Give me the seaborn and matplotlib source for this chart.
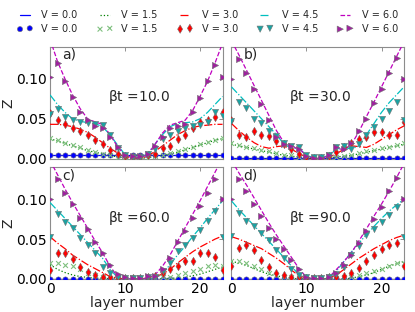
import numpy as np
import matplotlib
matplotlib.use("Agg")
import matplotlib.pyplot as plt
from matplotlib.ticker import FormatStrFormatter
import seaborn as sns

# layer index
layers = list(range(24))

potentials = ['0.0', '1.5', '3.0', '4.5', '6.0']
beta_t = ['10.0', '30.0', '60.0', '90.0']
panel_tags = ['a)', 'b)', 'c)', 'd)']

# ---- panel a, beta t = 10 ----
a_line_00 = [0.005, 0.005, 0.005, 0.005, 0.005, 0.005, 0.005, 0.005, 0.005, 0.005, 0.005, 0.005,
             0.005, 0.005, 0.005, 0.005, 0.005, 0.005, 0.005, 0.005, 0.005, 0.005, 0.005, 0.005]
a_pts_00 = [0.005, 0.005, 0.005, 0.005, 0.005, 0.005, 0.005, 0.005, 0.005, 0.005, 0.005, 0.005,
            0.005, 0.005, 0.005, 0.005, 0.005, 0.005, 0.005, 0.005, 0.005, 0.005, 0.005, 0.005]
a_line_15 = [0.025, 0.022, 0.019, 0.016, 0.013, 0.010, 0.008, 0.006, 0.004, 0.002, 0.001, 0.000,
             0.000, 0.001, 0.002, 0.004, 0.006, 0.008, 0.011, 0.014, 0.017, 0.020, 0.023, 0.025]
a_pts_15 = [0.026, 0.023, 0.020, 0.017, 0.014, 0.011, 0.008, 0.006, 0.004, 0.002, 0.001, 0.001,
            0.001, 0.001, 0.003, 0.005, 0.007, 0.009, 0.012, 0.015, 0.018, 0.021, 0.023, 0.026]
a_line_30 = [0.043, 0.043, 0.042, 0.040, 0.037, 0.033, 0.027, 0.020, 0.013, 0.007, 0.002, 0.000,
             0.000, 0.003, 0.009, 0.016, 0.023, 0.030, 0.035, 0.039, 0.041, 0.042, 0.043, 0.043]
a_pts_30 = [0.057, 0.049, 0.044, 0.039, 0.035, 0.029, 0.023, 0.018, 0.011, 0.006, 0.003, 0.002,
            0.002, 0.004, 0.006, 0.013, 0.016, 0.024, 0.030, 0.038, 0.046, 0.049, 0.052, 0.059]
a_line_45 = [0.080, 0.068, 0.058, 0.050, 0.047, 0.045, 0.044, 0.040, 0.030, 0.017, 0.005, 0.001,
             0.001, 0.006, 0.018, 0.030, 0.040, 0.044, 0.045, 0.046, 0.050, 0.058, 0.068, 0.078]
a_pts_45 = [0.056, 0.062, 0.052, 0.048, 0.046, 0.045, 0.044, 0.042, 0.030, 0.013, 0.004, 0.002,
            0.002, 0.006, 0.012, 0.024, 0.030, 0.035, 0.039, 0.041, 0.042, 0.046, 0.059, 0.054]
a_line_60 = [0.150, 0.122, 0.100, 0.080, 0.063, 0.050, 0.046, 0.043, 0.030, 0.015, 0.004, 0.001,
             0.001, 0.005, 0.018, 0.032, 0.042, 0.045, 0.048, 0.060, 0.078, 0.097, 0.120, 0.145]
a_pts_60 = [0.102, 0.120, 0.098, 0.077, 0.059, 0.048, 0.041, 0.038, 0.027, 0.014, 0.005, 0.003,
            0.003, 0.006, 0.016, 0.027, 0.038, 0.041, 0.044, 0.059, 0.076, 0.097, 0.118, 0.102]

# ---- panel b, beta t = 30 ----
b_line_00 = [0.0005, 0.0005, 0.0005, 0.0005, 0.0005, 0.0005, 0.0005, 0.0005, 0.0005, 0.0005, 0.0005, 0.0005,
             0.0005, 0.0005, 0.0005, 0.0005, 0.0005, 0.0005, 0.0005, 0.0005, 0.0005, 0.0005, 0.0005, 0.0005]
b_pts_00 = [0.0005, 0.0005, 0.0005, 0.0005, 0.0005, 0.0005, 0.0005, 0.0005, 0.0005, 0.0005, 0.0005, 0.0005,
            0.0005, 0.0005, 0.0005, 0.0005, 0.0005, 0.0005, 0.0005, 0.0005, 0.0005, 0.0005, 0.0005, 0.0005]
b_line_15 = [0.018, 0.016, 0.014, 0.012, 0.010, 0.008, 0.006, 0.004, 0.003, 0.002, 0.001, 0.000,
             0.000, 0.001, 0.002, 0.003, 0.004, 0.006, 0.008, 0.010, 0.012, 0.014, 0.016, 0.018]
b_pts_15 = [0.019, 0.017, 0.015, 0.013, 0.011, 0.009, 0.007, 0.005, 0.004, 0.002, 0.001, 0.001,
            0.001, 0.001, 0.002, 0.003, 0.005, 0.007, 0.009, 0.011, 0.013, 0.015, 0.017, 0.019]
b_line_30 = [0.044, 0.035, 0.027, 0.020, 0.015, 0.013, 0.015, 0.016, 0.012, 0.006, 0.002, 0.000,
             0.000, 0.002, 0.006, 0.012, 0.016, 0.015, 0.014, 0.018, 0.024, 0.030, 0.036, 0.041]
b_pts_30 = [0.048, 0.030, 0.027, 0.035, 0.030, 0.028, 0.022, 0.018, 0.012, 0.006, 0.002, 0.001,
            0.001, 0.003, 0.008, 0.015, 0.020, 0.025, 0.027, 0.033, 0.033, 0.029, 0.030, 0.046]
b_line_45 = [0.090, 0.080, 0.070, 0.060, 0.050, 0.040, 0.030, 0.018, 0.013, 0.013, 0.004, 0.001,
             0.001, 0.004, 0.012, 0.014, 0.012, 0.016, 0.030, 0.044, 0.058, 0.070, 0.080, 0.090]
b_pts_45 = [0.047, 0.071, 0.063, 0.050, 0.045, 0.035, 0.028, 0.020, 0.016, 0.015, 0.005, 0.002,
            0.002, 0.005, 0.014, 0.016, 0.012, 0.018, 0.030, 0.040, 0.050, 0.060, 0.071, 0.048]
b_line_60 = [0.148, 0.130, 0.111, 0.092, 0.073, 0.054, 0.035, 0.020, 0.014, 0.013, 0.003, 0.000,
             0.000, 0.004, 0.013, 0.011, 0.018, 0.034, 0.053, 0.071, 0.090, 0.109, 0.128, 0.147]
b_pts_60 = [0.100, 0.125, 0.108, 0.088, 0.068, 0.048, 0.027, 0.018, 0.016, 0.012, 0.003, 0.001,
            0.001, 0.005, 0.015, 0.012, 0.020, 0.035, 0.050, 0.070, 0.088, 0.108, 0.126, 0.100]

# ---- panel c, beta t = 60 ----
c_line_00 = b_line_00
c_pts_00 = b_pts_00
c_line_15 = [0.018, 0.012, 0.008, 0.005, 0.003, 0.002, 0.001, 0.001, 0.000, 0.000, 0.000, 0.000,
             0.000, 0.000, 0.000, 0.000, 0.001, 0.001, 0.002, 0.004, 0.006, 0.009, 0.012, 0.015]
c_pts_15 = [0.020, 0.020, 0.017, 0.016, 0.012, 0.008, 0.005, 0.003, 0.001, 0.001, 0.001, 0.001,
            0.001, 0.001, 0.001, 0.002, 0.003, 0.005, 0.008, 0.010, 0.013, 0.016, 0.018, 0.016]
c_line_30 = [0.053, 0.045, 0.038, 0.030, 0.024, 0.018, 0.013, 0.008, 0.003, 0.001, 0.000, 0.000,
             0.000, 0.001, 0.003, 0.006, 0.012, 0.020, 0.027, 0.034, 0.040, 0.045, 0.050, 0.054]
c_pts_30 = [0.011, 0.032, 0.033, 0.025, 0.015, 0.009, 0.005, 0.003, 0.002, 0.001, 0.001, 0.001,
            0.001, 0.002, 0.004, 0.007, 0.012, 0.016, 0.022, 0.022, 0.032, 0.032, 0.028, 0.011]
c_line_45 = [0.096, 0.086, 0.076, 0.066, 0.056, 0.046, 0.036, 0.026, 0.012, 0.002, 0.000, 0.000,
             0.000, 0.000, 0.001, 0.006, 0.018, 0.030, 0.041, 0.053, 0.064, 0.076, 0.087, 0.098]
c_pts_45 = [0.053, 0.082, 0.072, 0.064, 0.051, 0.043, 0.033, 0.015, 0.008, 0.003, 0.001, 0.001,
            0.001, 0.002, 0.003, 0.010, 0.020, 0.035, 0.043, 0.052, 0.062, 0.073, 0.085, 0.053]
c_line_60 = [0.149, 0.131, 0.113, 0.096, 0.080, 0.064, 0.048, 0.033, 0.016, 0.003, 0.000, 0.000,
             0.000, 0.001, 0.005, 0.016, 0.030, 0.047, 0.064, 0.081, 0.098, 0.116, 0.134, 0.152]
c_pts_60 = [0.100, 0.125, 0.108, 0.094, 0.077, 0.063, 0.047, 0.032, 0.018, 0.006, 0.002, 0.001,
            0.001, 0.004, 0.004, 0.012, 0.026, 0.047, 0.060, 0.077, 0.092, 0.108, 0.125, 0.100]

# ---- panel d, beta t = 90 ----
d_line_00 = b_line_00
d_pts_00 = b_pts_00
d_line_15 = [0.022, 0.020, 0.017, 0.013, 0.009, 0.006, 0.004, 0.002, 0.001, 0.000, 0.000, 0.000,
             0.000, 0.000, 0.000, 0.000, 0.001, 0.003, 0.005, 0.008, 0.012, 0.016, 0.019, 0.022]
d_pts_15 = [0.023, 0.022, 0.020, 0.016, 0.012, 0.008, 0.005, 0.003, 0.002, 0.001, 0.001, 0.001,
            0.001, 0.001, 0.001, 0.002, 0.003, 0.005, 0.008, 0.010, 0.012, 0.016, 0.020, 0.020]
d_line_30 = [0.053, 0.050, 0.046, 0.042, 0.038, 0.032, 0.026, 0.019, 0.011, 0.004, 0.001, 0.000,
             0.000, 0.001, 0.005, 0.012, 0.019, 0.026, 0.032, 0.038, 0.043, 0.048, 0.052, 0.055]
d_pts_30 = [0.016, 0.039, 0.043, 0.036, 0.024, 0.015, 0.008, 0.005, 0.003, 0.002, 0.001, 0.001,
            0.001, 0.002, 0.003, 0.004, 0.008, 0.014, 0.022, 0.030, 0.037, 0.042, 0.045, 0.016]
d_line_45 = [0.098, 0.087, 0.077, 0.067, 0.057, 0.047, 0.037, 0.027, 0.016, 0.005, 0.001, 0.000,
             0.000, 0.001, 0.010, 0.022, 0.034, 0.045, 0.056, 0.066, 0.076, 0.085, 0.093, 0.100]
d_pts_45 = [0.054, 0.083, 0.073, 0.067, 0.058, 0.049, 0.036, 0.026, 0.012, 0.005, 0.002, 0.001,
            0.001, 0.002, 0.006, 0.015, 0.030, 0.041, 0.055, 0.063, 0.072, 0.080, 0.090, 0.053]
d_line_60 = [0.149, 0.133, 0.118, 0.102, 0.086, 0.070, 0.055, 0.041, 0.027, 0.013, 0.002, 0.000,
             0.000, 0.002, 0.012, 0.022, 0.033, 0.048, 0.063, 0.079, 0.094, 0.110, 0.127, 0.145]
d_pts_60 = [0.101, 0.125, 0.110, 0.094, 0.079, 0.064, 0.050, 0.037, 0.024, 0.013, 0.003, 0.001,
            0.001, 0.003, 0.008, 0.018, 0.030, 0.045, 0.060, 0.075, 0.090, 0.110, 0.127, 0.101]

# small error bar on the sampled points
pt_err = 0.002

lines = [
    [a_line_00, a_line_15, a_line_30, a_line_45, a_line_60],
    [b_line_00, b_line_15, b_line_30, b_line_45, b_line_60],
    [c_line_00, c_line_15, c_line_30, c_line_45, c_line_60],
    [d_line_00, d_line_15, d_line_30, d_line_45, d_line_60],
]
points = [
    [a_pts_00, a_pts_15, a_pts_30, a_pts_45, a_pts_60],
    [b_pts_00, b_pts_15, b_pts_30, b_pts_45, b_pts_60],
    [c_pts_00, c_pts_15, c_pts_30, c_pts_45, c_pts_60],
    [d_pts_00, d_pts_15, d_pts_30, d_pts_45, d_pts_60],
]

# styles
line_colors = ['b', 'g', 'r', 'c', 'm']
line_styles = ['-', ':', '-.', '-.', '--']
mark_colors = ['b', '#7fc07f', 'r', '#1aa3a3', '#a020a0']
mark_shapes = ['o', 'x', 'd', 'v', '>']
mark_sizes = [14, 12, 18, 20, 20]

sns.set_style("white")
plt.rcParams['font.family'] = ['DejaVu Sans']

fig, axs = plt.subplots(2, 2, figsize=(4.15, 3.12), dpi=100, sharex=True, sharey=True)
fig.subplots_adjust(left=0.1205, right=0.9735, top=0.849, bottom=0.106, wspace=0.052, hspace=0.08)

leg_lines, leg_marks, leg_labels = [], [], []
for k, ax in enumerate(axs.flat):
    for j, V in enumerate(potentials):
        sns.lineplot(x=layers, y=lines[k][j], ax=ax, color=line_colors[j], linestyle=line_styles[j],
                     linewidth=0.9, sort=False, zorder=3)
        if j in (2, 3, 4):
            ax.errorbar(layers, points[k][j], yerr=pt_err, fmt='none', ecolor='0.55',
                        elinewidth=0.6, zorder=2)
        if mark_shapes[j] == 'x':
            sns.scatterplot(x=layers, y=points[k][j], ax=ax, marker='x', color=mark_colors[j],
                            s=mark_sizes[j], linewidth=0.8, zorder=4)
        else:
            sns.scatterplot(x=layers, y=points[k][j], ax=ax, marker=mark_shapes[j], color=mark_colors[j],
                            s=mark_sizes[j], edgecolor='0.45', linewidth=0.4, zorder=4)
        if k == 0:
            leg_lines.append(ax.lines[-1])
            leg_marks.append(ax.collections[-1])
            leg_labels.append('V = ' + V)

    ax.set_xlim(0, 23)
    ax.set_ylim(0, 0.14)
    ax.set_xticks([0, 10, 20])
    ax.set_yticks([0.00, 0.05, 0.10])
    ax.yaxis.set_major_formatter(FormatStrFormatter('%.2f'))
    ax.tick_params(direction='in', top=True, right=True, length=3, width=0.6, colors='0.5',
                   labelcolor='black', labelsize=10, pad=2)
    for s in ax.spines.values():
        s.set_color('0.55')
        s.set_linewidth(0.8)
    ax.text(0.07, 0.93, panel_tags[k], transform=ax.transAxes, ha='left', va='center', fontsize=10)
    ax.text(0.335, 0.55, r'$\mathregular{\beta}$t =' + beta_t[k], transform=ax.transAxes,
            ha='left', va='center', fontsize=10)

for ax in axs[:, 0]:
    ax.set_ylabel('Z', fontsize=10, labelpad=1)
for ax in axs[1, :]:
    ax.set_xlabel('layer number', fontsize=10, labelpad=0)

# legend: lines on top row, markers below (columns filled top to bottom)
leg_h, leg_l = [], []
for j in range(5):
    leg_h += [leg_lines[j], leg_marks[j]]
    leg_l += [leg_labels[j], leg_labels[j]]
fig.legend(leg_h, leg_l, loc='upper center', bbox_to_anchor=(0.5, 0.995), ncol=5, frameon=False,
           fontsize=7, numpoints=2, scatterpoints=2, handlelength=1.6, handletextpad=0.9,
           columnspacing=2.0, labelspacing=0.35)

fig.savefig('out.png', dpi=100)
